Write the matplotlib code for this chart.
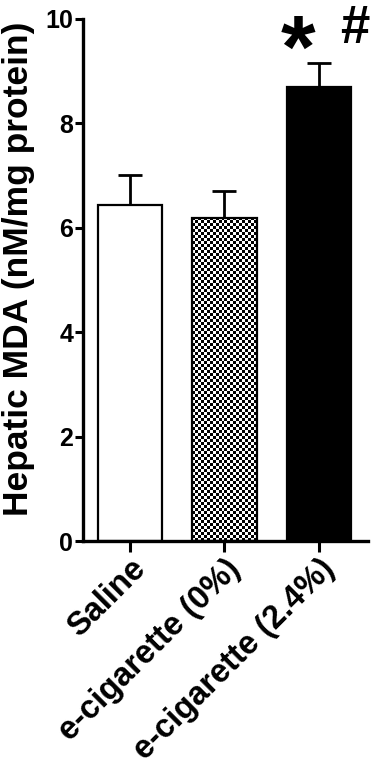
import numpy as np
import matplotlib
matplotlib.use("Agg")
import matplotlib.pyplot as plt

# data
groups = ["Saline", "e-cigarette (0%)", "e-cigarette (2.4%)"]
mda_mean = [6.44, 6.19, 8.70]
mda_sem = [0.57, 0.51, 0.45]
marks = ["*", "#"]
yticks = [0, 2, 4, 6, 8, 10]

plt.rcParams['font.family'] = ['Liberation Sans', 'DejaVu Sans']
plt.rcParams['font.weight'] = 'bold'

fig = plt.figure(figsize=(3.83, 7.72), dpi=100)
ax = fig.add_axes([0.2167, 0.2992, 0.7443, 0.6762])

x = np.arange(len(groups))
faces = ["white", "white", "black"]
bars = ax.bar(x, mda_mean, width=0.68, color=faces, edgecolor="black",
              linewidth=1.6, zorder=2)
ax.errorbar(x, mda_mean, yerr=[np.zeros(len(mda_sem)), mda_sem], fmt="none",
            ecolor="black", elinewidth=2.0, capsize=8.5, capthick=2.0, zorder=1)

# checkerboard fill for the middle bar
b = bars[1]
ncol, nrow = 22, 108
checker = (np.indices((nrow, ncol)).sum(axis=0) % 2).astype(float)
img = ax.imshow(checker, cmap="gray", interpolation="nearest", aspect="auto",
                extent=(b.get_x(), b.get_x() + b.get_width(), 0, b.get_height()),
                zorder=1.5)
img.set_clip_path(b)
b.set_facecolor("none")
b.set_zorder(3)

ax.set_xlim(-0.497, 2.519)
ax.set_ylim(0, 10)
ax.set_yticks(yticks)
ax.set_xticks(x)
ax.set_xticklabels(groups, rotation=45, ha="right", rotation_mode="anchor",
                   fontsize=23.5, fontweight="bold")
ax.tick_params(axis="y", labelsize=18, width=2.2, length=6, pad=1)
ax.tick_params(axis="x", width=2.2, length=8, pad=1)
for lab in ax.get_yticklabels():
    lab.set_fontweight("bold")

for s in ["top", "right"]:
    ax.spines[s].set_visible(False)
for s in ["left", "bottom"]:
    ax.spines[s].set_linewidth(2.4)

ax.set_ylabel("Hepatic MDA (nM/mg protein)", fontsize=25.5, fontweight="bold")
ax.yaxis.set_label_coords(-0.168, 0.522)

# significance marks above the 2.4% bar
ax.text(1.78, 8.9, marks[0], fontsize=64, fontweight="bold",
        ha="center", va="baseline")
ax.text(2.38, 9.54, marks[1], fontsize=38, fontweight="bold",
        ha="center", va="baseline")

fig.savefig("out.png", dpi=100)
